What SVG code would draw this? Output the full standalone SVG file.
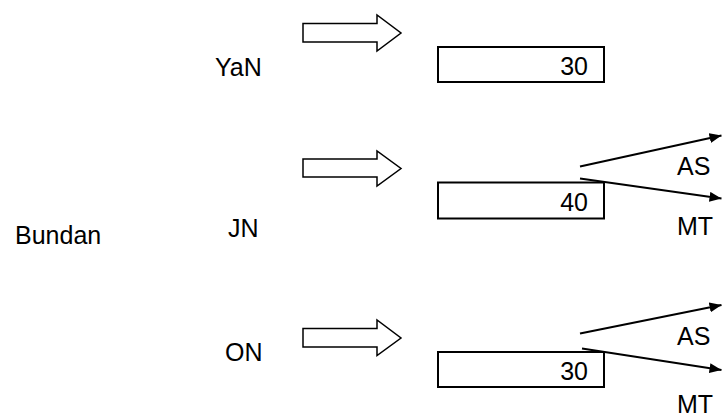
<svg xmlns="http://www.w3.org/2000/svg" width="722" height="414" viewBox="0 0 722 414">
<style>
text{font-family:"Liberation Sans",Arial,sans-serif;font-size:25px;fill:#000}
.box{fill:#fff;stroke:#000;stroke-width:2}
.big{fill:#fff;stroke:#000;stroke-width:1.5;stroke-linejoin:miter}
.ln{stroke:#000;stroke-width:2;fill:none}
</style>
<defs>
<marker id="ah" markerWidth="12" markerHeight="10" refX="12" refY="5" orient="auto" markerUnits="userSpaceOnUse">
<path d="M0,0 L12,5 L0,10 Z" fill="#000"/>
</marker>
</defs>
<g id="bundan"><text x="15" y="244">Bundan</text></g>
<g id="yan">
<text x="215" y="76">YaN</text>
<path class="big" d="M303,23.5 H377 V15 L401,33 L377,51 V42 H303 Z"/>
<rect class="box" x="438" y="47" width="166" height="35"/>
<text x="588" y="75" text-anchor="end">30</text>
</g>
<g id="jn">
<text x="228" y="237">JN</text>
<path class="big" d="M303,159 H377 V151 L401,168.5 L377,186 V177 H303 Z"/>
<rect class="box" x="438" y="182.5" width="166" height="36"/>
<text x="588" y="211" text-anchor="end">40</text>
<text x="677" y="175">AS</text>
<text x="677" y="235">MT</text>
</g>
<g id="on">
<text x="225" y="361">ON</text>
<path class="big" d="M303,328.5 H377 V320 L401,338 L377,355.5 V347 H303 Z"/>
<rect class="box" x="438" y="352" width="166" height="35"/>
<text x="588" y="380" text-anchor="end">30</text>
<text x="677" y="345">AS</text>
<text x="677" y="413">MT</text>
</g>
<g id="connectors">
<line class="ln" x1="580" y1="166.5" x2="721.5" y2="135.5" marker-end="url(#ah)"/>
<line class="ln" x1="580" y1="178.5" x2="721.5" y2="198.5" marker-end="url(#ah)"/>
<line class="ln" x1="580" y1="333.5" x2="721.5" y2="305" marker-end="url(#ah)"/>
<line class="ln" x1="582" y1="348.5" x2="721.5" y2="370" marker-end="url(#ah)"/>
</g>
</svg>
